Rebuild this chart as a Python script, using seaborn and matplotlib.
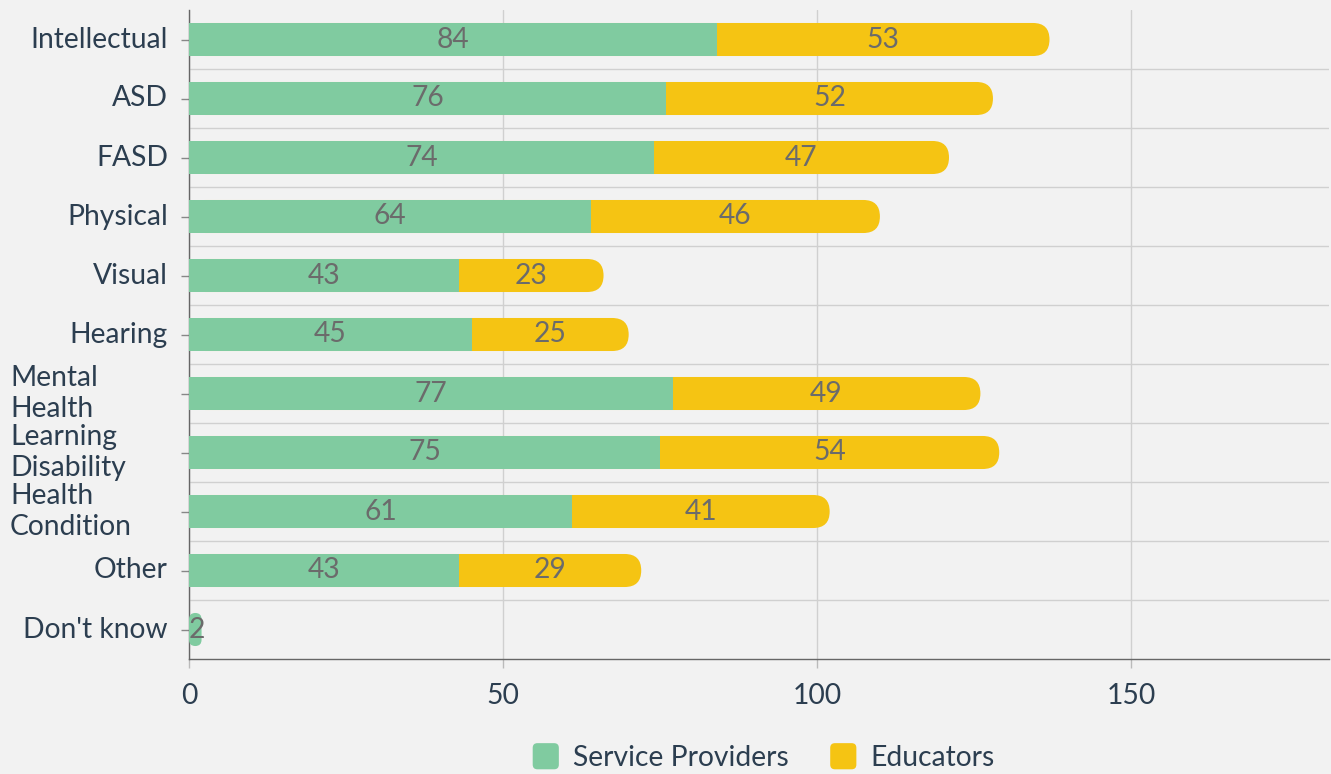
import matplotlib
matplotlib.use("Agg")
import matplotlib.pyplot as plt
import seaborn as sns
import pandas as pd
from matplotlib.patches import FancyBboxPatch, Rectangle
from matplotlib.legend_handler import HandlerPatch
from matplotlib.transforms import ScaledTranslation, blended_transform_factory

categories = ["Intellectual", "ASD", "FASD", "Physical", "Visual", "Hearing",
              "Mental\nHealth", "Learning\nDisability", "Health\nCondition", "Other", "Don't know"]
service_providers = [84, 76, 74, 64, 43, 45, 77, 75, 61, 43, 2]
educators = [53, 52, 47, 46, 23, 25, 49, 54, 41, 29, 0]
x_ticks = [0, 50, 100, 150]
series_names = ["Service Providers", "Educators"]

GREEN = "#80cba0"
YELLOW = "#f5c413"
BG = "#f2f2f2"
TEXT = "#2c3e50"
VAL = "#6b6b6b"
FONT = "Lato"
FS = 20.3

sns.set_theme(style="white")
plt.rcParams["font.family"] = [FONT, "DejaVu Sans"]

W, H = 1331, 774
fig = plt.figure(figsize=(W / 100, H / 100), dpi=100, facecolor=BG)
left, right, top, bottom = 189, 1329, 10, 659
ax = fig.add_axes([left / W, 1 - bottom / H, (right - left) / W, (bottom - top) / H])
ax.set_facecolor(BG)

df = pd.DataFrame({"cat": categories, "sp": service_providers, "ed": educators})
df["total"] = df["sp"] + df["ed"]

BAR_H = 0.56
sns.barplot(data=df, x="total", y="cat", color=YELLOW, width=BAR_H, ax=ax,
            saturation=1, orient="h", zorder=2, linewidth=0, edgecolor="none")
sns.barplot(data=df, x="sp", y="cat", color=GREEN, width=BAR_H, ax=ax,
            saturation=1, orient="h", zorder=3, linewidth=0, edgecolor="none")

XMAX = 181.5
ax.set_xlim(0, XMAX)
ax.set_ylim(len(categories) - 0.5, -0.5)

ux = XMAX / (right - left)
uy = len(categories) / (bottom - top)
aspect = uy / ux

n = len(categories)
patches = list(ax.patches)
yellow_patches = patches[:n]
green_patches = patches[n:2 * n]

def round_patch(p, color, z):
    x0, y0 = p.get_x(), p.get_y()
    w, h = p.get_width(), p.get_height()
    p.set_visible(False)
    r_px = (h / uy) / 2
    r = min(r_px * ux, w / 2)
    fb = FancyBboxPatch((x0, y0), w, h, boxstyle=f"round,pad=0,rounding_size={r}",
                        mutation_aspect=aspect, facecolor=color, edgecolor="none",
                        linewidth=0, zorder=z)
    ax.add_patch(fb)

for i, p in enumerate(yellow_patches):
    if educators[i] > 0:
        round_patch(p, YELLOW, 2)
    else:
        p.set_visible(False)
for i, p in enumerate(green_patches):
    if educators[i] == 0:
        round_patch(p, GREEN, 3)

for i in range(n):
    sp, ed = service_providers[i], educators[i]
    if sp > 0:
        ax.text(sp / 2 + (0.2 if sp <= 3 else 0), i, str(sp), ha="center", va="center",
                fontsize=FS, color=VAL, zorder=5)
    if ed > 0:
        ax.text(sp + ed / 2, i, str(ed), ha="center", va="center",
                fontsize=FS, color=VAL, zorder=5)

ax.set_xticks(x_ticks)
ax.set_xticklabels([str(t) for t in x_ticks], fontsize=FS, color=TEXT)
ax.set_yticks(range(n))
ax.set_yticklabels([""] * n)
ax.set_yticks([i + 0.5 for i in range(n - 1)], minor=True)
ax.grid(True, axis="x", which="major", color="#d0d0d0", linewidth=1, zorder=0)
ax.grid(True, axis="y", which="minor", color="#d0d0d0", linewidth=1, zorder=0)
ax.grid(False, axis="y", which="major")
ax.set_axisbelow(True)
ax.tick_params(axis="y", which="minor", length=0)
ax.tick_params(axis="y", which="major", length=6, color="#888888", width=1, left=True)
ax.tick_params(axis="x", which="major", length=6.5, color="#bbbbbb", width=1, bottom=True, pad=11)
ax.set_xlabel("")
ax.set_ylabel("")
for s in ["top", "right"]:
    ax.spines[s].set_visible(False)
for s in ["left", "bottom"]:
    ax.spines[s].set_color("#666666")
    ax.spines[s].set_linewidth(1)

trans = blended_transform_factory(ax.transAxes, ax.transData)
for i, c in enumerate(categories):
    if "\n" in c:
        t = trans + ScaledTranslation(-(left - 10) / 100, 0, fig.dpi_scale_trans)
        ax.text(0, i, c, ha="left", va="center", fontsize=FS, color=TEXT,
                transform=t, linespacing=1.2)
    else:
        t = trans + ScaledTranslation(-21 / 100, 0, fig.dpi_scale_trans)
        ax.text(0, i, c, ha="right", va="center", fontsize=FS, color=TEXT, transform=t)

def rounded_handle(legend, orig_handle, xdescent, ydescent, width, height, fontsize):
    s = min(width, height)
    return FancyBboxPatch((-xdescent + (width - s) / 2, -ydescent + (height - s) / 2), s, s,
                          boxstyle=f"round,pad=0,rounding_size={s * 0.18}")

leg = fig.legend(handles=[Rectangle((0, 0), 1, 1, facecolor=GREEN, edgecolor="none"),
                          Rectangle((0, 0), 1, 1, facecolor=YELLOW, edgecolor="none")],
                 labels=series_names, loc="center", bbox_to_anchor=(763 / W, 1 - 757 / H),
                 ncol=2, frameon=False, fontsize=FS, handlelength=1.05, handleheight=1.05,
                 handletextpad=0.45, columnspacing=1.4, borderpad=0,
                 handler_map={Rectangle: HandlerPatch(patch_func=rounded_handle)})
for t in leg.get_texts():
    t.set_color(TEXT)

fig.savefig("out.png", dpi=100, facecolor=BG)
